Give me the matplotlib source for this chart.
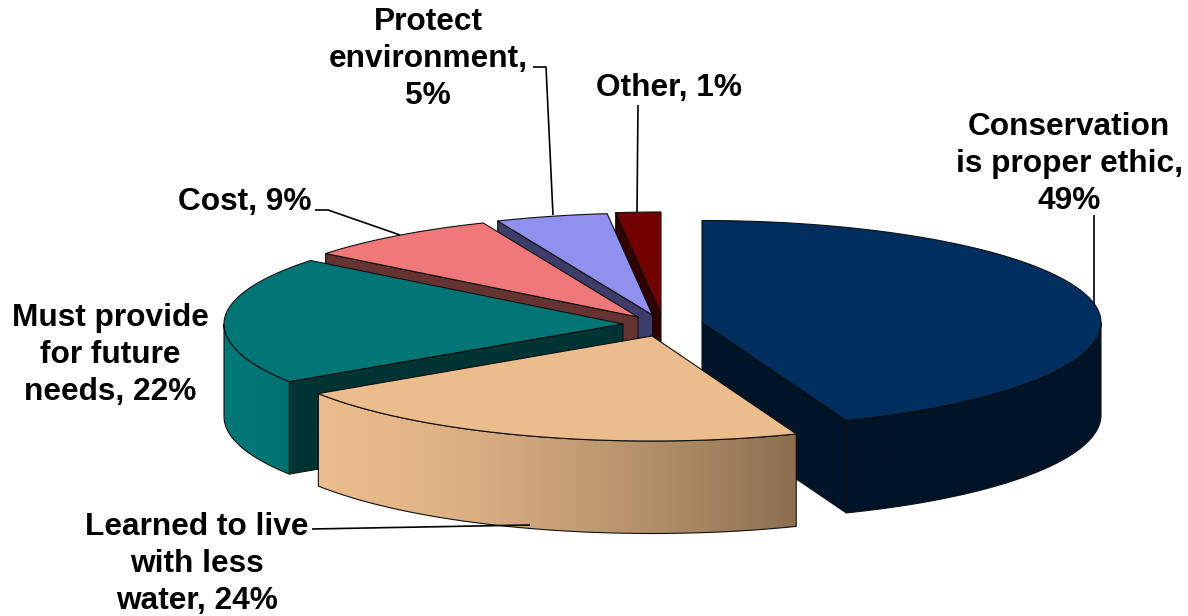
import numpy as np
import matplotlib
matplotlib.use('Agg')
import matplotlib.pyplot as plt
from matplotlib.colors import LinearSegmentedColormap
from matplotlib.patches import Polygon

plt.rcParams['font.family'] = ['Liberation Sans', 'DejaVu Sans']

# Datos (las porciones se leen del dibujo, la etiqueta de "Other" esta redondeada)
labels = ['Conservation\nis proper ethic,\n49%', 'Learned to live\nwith less\nwater, 24%',
          'Must provide\nfor future\nneeds, 22%', 'Cost, 9%', 'Protect\nenvironment,\n5%', 'Other, 1%']
shares = [48.7, 23.9, 22, 8.8, 5, 2]

# Colores: tapa, pared interior, lateral izquierda, lateral derecha
top_colors = ['#002f5f', '#ebbc8c', '#007575', '#f07878', '#9090ee', '#720000']
cut_colors = ['#001428', '#8b6f50', '#003333', '#663333', '#3d3d6b', '#300000']
side_left = ['#001428', '#ebbc8c', '#007878', '#663333', '#3d3d6b', '#300000']
side_right = ['#001428', '#8b6f50', '#007070', '#663333', '#3d3d6b', '#300000']

# Vertice de cada porcion ya desplazada (pixeles)
apex_x = [702, 652, 623, 638, 652.5, 661]
apex_y = [322.5, 336, 324, 317, 315, 314]
RX, RY_BACK, RY_FRONT, DEPTH = 399, 102, 105, 92.5

label_pos = [(1069, 164), (197, 564), (110, 355), (244.5, 202), (428, 59), (669, 88)]
leaders = [[(1094, 215), (1094, 305)],
           [(312, 529), (530, 525)],
           [(315, 210), (328, 210), (400, 235)],
           [(533, 67), (546, 67), (553, 215)],
           [(638, 105), (637, 212)]]

fig = plt.figure(figsize=(11.88, 6.16), dpi=100)
ax = fig.add_axes([0, 0, 1, 1])
ax.axis('off')

edges = np.cumsum([0] + shares) / sum(shares) * 2 * np.pi
EDGE = dict(edgecolor='#101010', linewidth=0.8, joinstyle='round')


def rim(i, t):
    c = np.cos(t)
    return apex_x[i] + RX * np.sin(t), apex_y[i] - np.where(c > 0, RY_BACK, RY_FRONT) * c


def draw_cut(i, t, normal, z):
    # Pared recta de la porcion, solo si mira hacia el frente
    if np.cos(normal) >= 0:
        return
    x, y = rim(i, t)
    pts = [(apex_x[i], apex_y[i]), (x, y), (x, y + DEPTH), (apex_x[i], apex_y[i] + DEPTH)]
    ax.add_patch(Polygon(pts, closed=True, facecolor=cut_colors[i], zorder=z, **EDGE))


def draw_side(i, t1, t2, z):
    # Lateral curvo visible (parte delantera) con degradado horizontal
    lo, hi = max(t1, np.pi / 2), min(t2, 3 * np.pi / 2)
    if lo >= hi:
        return
    ts = np.linspace(lo, hi, 120)
    xs, ys = rim(i, ts)
    outline = list(zip(xs, ys)) + list(zip(xs[::-1], ys[::-1] + DEPTH))
    cmap = LinearSegmentedColormap.from_list('side', [side_left[i], side_right[i]])
    ramp = np.linspace(0, 1, 256) ** 1.5
    im = ax.imshow(ramp.reshape(1, -1), cmap=cmap, vmin=0, vmax=1, aspect='auto',
                   extent=(xs.min(), xs.max(), ys.max() + DEPTH, ys.min()), zorder=z)
    shape = Polygon(outline, closed=True, fill=False, zorder=z + 0.1, **EDGE)
    ax.add_patch(shape)
    im.set_clip_path(shape)


# Orden de pintado: de atras hacia delante
for z, i in enumerate([5, 4, 3, 0, 2, 1]):
    t1, t2 = edges[i], edges[i + 1]
    draw_cut(i, t1, t1 - np.pi / 2, z * 10 + 1)
    draw_cut(i, t2, t2 + np.pi / 2, z * 10 + 1)
    draw_side(i, t1, t2, z * 10 + 2)
    ts = np.linspace(t1, t2, 150)
    xs, ys = rim(i, ts)
    pts = [(apex_x[i], apex_y[i])] + list(zip(xs, ys))
    ax.add_patch(Polygon(pts, closed=True, facecolor=top_colors[i], zorder=z * 10 + 3, **EDGE))

for line in leaders:
    xs, ys = zip(*line)
    ax.plot(xs, ys, color='black', linewidth=1.2, zorder=100, solid_capstyle='butt')

for text, (x, y) in zip(labels, label_pos):
    ax.text(x, y, text, ha='center', va='center', fontsize=22.8, fontweight='bold',
            color='black', linespacing=1.31, zorder=101)

ax.set_xlim(0, 1188)
ax.set_ylim(616, 0)
fig.savefig('out.png', dpi=100)
